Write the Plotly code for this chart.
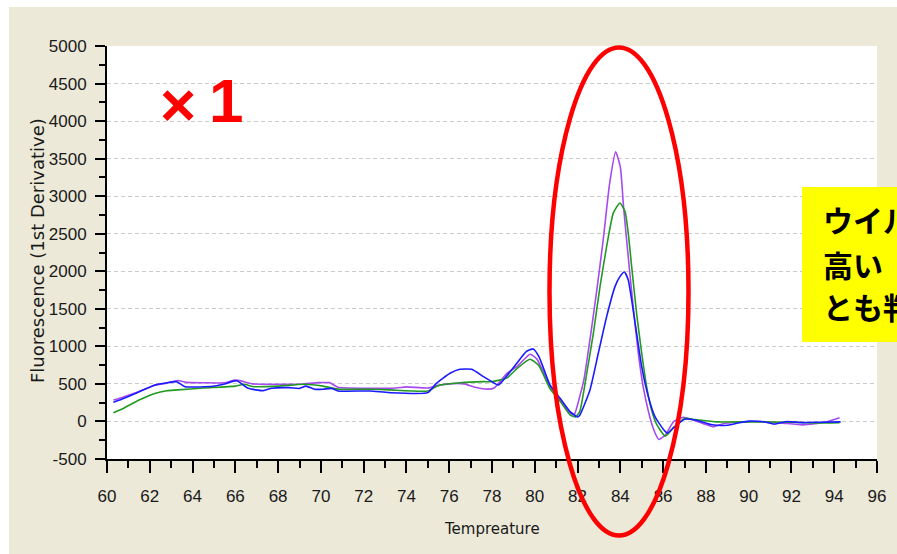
import plotly.graph_objects as go

# ---- data ----
purple_t = [60.3, 60.8, 61.5, 62.2, 62.8, 63.3, 63.7, 64.5, 65.5, 66.0, 66.4, 66.8, 68.0, 69.0, 69.9, 70.4,
            70.8, 72.0, 73.5, 74.0, 75.0, 75.5, 76.0, 76.7, 77.2, 77.8, 78.1, 78.7, 79.2, 79.78, 80.1, 80.7,
            81.2, 81.65, 81.85, 82.1, 82.3, 82.6, 82.9, 83.2, 83.5, 83.78, 84.0, 84.15, 84.37, 84.6, 84.84,
            85.07, 85.3, 85.55, 85.8, 86.1, 86.5, 86.95, 87.3, 88.0, 88.35, 88.8, 89.5, 90.5, 91.5, 92.5,
            93.0, 93.7, 94.25]
purple_v = [285, 330, 400, 480, 510, 545, 520, 515, 515, 550, 530, 500, 495, 495, 517, 517,
            455, 442, 445, 460, 445, 480, 500, 500, 455, 430, 445, 640, 740, 895, 830, 473,
            270, 110, 95, 330, 560, 1130, 1750, 2420, 3170, 3590, 3390, 2860, 2190, 1530, 910,
            460, 150, -100, -240, -180, 0, 55, 30, -40, -70, -30, -10, 0, -20, -45,
            -35, 0, 50]

green_t = [60.3, 60.8, 61.5, 62.2, 62.8, 63.3, 64.5, 66.0, 66.45, 66.8, 68.0, 69.2, 70.1, 70.8, 72.3, 73.2,
           75.0, 75.5, 76.5, 77.6, 78.0, 78.7, 79.2, 79.78, 80.2, 80.7, 81.2, 81.65, 81.9, 82.1, 82.43,
           82.74, 83.05, 83.36, 83.67, 83.98, 84.22, 84.37, 84.53, 84.76, 85.0, 85.23, 85.46, 85.7, 86.1,
           86.5, 87.0, 87.5, 88.5, 90.0, 92.0, 93.0, 94.25]
green_v = [115, 180, 285, 370, 410, 420, 445, 470, 495, 465, 470, 495, 470, 430, 429, 420,
           406, 480, 515, 530, 530, 580, 713, 828, 740, 442, 264, 87, 60, 130, 640,
           1175, 1796, 2330, 2775, 2910, 2795, 2507, 2062, 1441, 908, 464, 153, -40, -195,
           -80, 40, 25, -5, -5, -10, -20, -15]

blue_t = [60.3, 60.8, 61.46, 62.24, 62.8, 63.26, 63.65, 64.58, 65.05, 65.5, 66.06, 66.6, 67.3, 67.7, 68.5,
          69.0, 69.3, 69.7, 70.1, 70.5, 70.8, 72.3, 73.2, 75.0, 75.4, 76.04, 76.5, 77.05, 77.6, 77.99,
          78.3, 78.7, 79.16, 79.6, 79.93, 80.2, 80.71, 81.18, 81.65, 82.0, 82.11, 82.58, 82.97, 83.36,
          83.75, 83.98, 84.19, 84.37, 84.53, 84.76, 85.0, 85.31, 85.62, 86.0, 86.2, 86.5, 87.0, 87.5,
          88.3, 89.0, 89.5, 90.0, 90.7, 91.2, 91.8, 92.5, 93.3, 94.3]
blue_v = [255, 310, 389, 486, 515, 530, 463, 463, 473, 500, 543, 442, 410, 442, 450,
          440, 470, 429, 429, 440, 406, 406, 384, 384, 508, 642, 695, 695, 597, 530,
          486, 610, 775, 930, 966, 860, 486, 309, 131, 60, 87, 420, 908, 1396,
          1796, 1929, 1990, 1885, 1618, 1175, 730, 330, 64, -100, -155, -80, 30, 20,
          -45, -50, -20, 5, -5, -35, 0, -15, -10, -5]

x_ticks = [60, 62, 64, 66, 68, 70, 72, 74, 76, 78, 80, 82, 84, 86, 88, 90, 92, 94, 96]
y_ticks = [-500, 0, 500, 1000, 1500, 2000, 2500, 3000, 3500, 4000, 4500, 5000]

x_title = "Tempreature"
y_title = "Fluorescence (1st Derivative)"
mark_sign = "×"
mark_num = "1"
note_lines = ["ウイル", "高い", "とも判"]

# ---- figure ----
fig = go.Figure()
for t, v, c in [(purple_t, purple_v, "#A64AEE"), (green_t, green_v, "#229A22"), (blue_t, blue_v, "#1A1AFF")]:
    fig.add_trace(go.Scatter(x=t, y=v, mode="lines",
                             line=dict(color=c, width=1.6, shape="spline", smoothing=0.5),
                             showlegend=False, hoverinfo="skip"))

BEIGE = "#ECE9D8"
tick_font = dict(family="Liberation Sans, Arial", size=17, color="#1a1a1a")

# pixel -> paper helpers (plot area: x 107..877, y 46..459)
def px(x):
    return (x - 107) / 770

def py(y):
    return (459 - y) / 413

note_annotations = [
    dict(text=line, xref="paper", yref="paper", x=px(821), y=py(yc),
         xanchor="left", yanchor="middle", align="left", showarrow=False,
         font=dict(family="Noto Sans CJK JP", size=30, color="black", weight="bold"))
    for line, yc in zip(note_lines, [219, 264, 306])
]

fig.update_layout(
    width=897, height=554,
    margin=dict(l=107, r=20, t=46, b=95),
    paper_bgcolor=BEIGE, plot_bgcolor="white",
    xaxis=dict(range=[60, 96], tickvals=x_ticks, ticktext=[str(v) for v in x_ticks],
               ticks="outside", ticklen=12, tickwidth=2, tickcolor="black",
               showline=True, linecolor="black", linewidth=2, showgrid=False, zeroline=False,
               tickfont=tick_font, ticklabelstandoff=9,
               minor=dict(ticks="outside", dtick=1, ticklen=7, tickwidth=2, tickcolor="black", showgrid=False)),
    yaxis=dict(range=[-500, 5000], tickvals=y_ticks, ticktext=[str(v) for v in y_ticks],
               ticks="outside", ticklen=10, tickwidth=2, tickcolor="black",
               showline=True, linecolor="black", linewidth=2,
               showgrid=True, gridcolor="#CCCCCC", griddash="4px,3px", gridwidth=1, zeroline=False,
               tickfont=tick_font, ticklabelstandoff=5,
               minor=dict(ticks="outside", dtick=250, ticklen=6, tickwidth=2, tickcolor="black", showgrid=False)),
    shapes=[
        # white strips at top and left of the picture
        dict(type="rect", xref="paper", yref="paper", x0=-0.2, x1=1.1, y0=py(7), y1=1.3,
             fillcolor="white", line=dict(width=0), layer="below"),
        dict(type="rect", xref="paper", yref="paper", x0=-0.2, x1=px(9), y0=-0.3, y1=1.3,
             fillcolor="white", line=dict(width=0), layer="below"),
        # yellow note box
        dict(type="rect", xref="paper", yref="paper", x0=px(802), x1=1.1, y0=py(342), y1=py(187),
             fillcolor="#FFFF00", line=dict(width=0), layer="above"),
        # red ellipse
        dict(type="circle", xref="paper", yref="paper",
             x0=px(549.5), x1=px(688.5), y0=py(535.5), y1=py(47.5),
             line=dict(color="#FF0000", width=4.5), layer="above"),
    ],
    annotations=[
        dict(text=y_title, xref="paper", yref="paper", x=px(38), y=py(251), textangle=-90,
             xanchor="center", yanchor="middle", showarrow=False,
             font=dict(family="DejaVu Sans", size=18, color="#1a1a1a")),
        dict(text=x_title, xref="paper", yref="paper", x=px(492), y=py(529),
             xanchor="center", yanchor="middle", showarrow=False,
             font=dict(family="DejaVu Sans", size=15, color="#1a1a1a")),
        dict(text=mark_sign, xref="paper", yref="paper", x=px(178), y=py(104),
             xanchor="center", yanchor="middle", showarrow=False,
             font=dict(family="Liberation Sans", size=62, color="#FF0000", weight="bold")),
        dict(text=mark_num, xref="paper", yref="paper", x=px(226), y=py(101),
             xanchor="center", yanchor="middle", showarrow=False,
             font=dict(family="Liberation Sans", size=62, color="#FF0000", weight="bold")),
    ] + note_annotations,
)

fig.write_html("out.html", config={"displayModeBar": False},
               post_script="document.body.style.margin='0';document.body.style.overflow='hidden';")
